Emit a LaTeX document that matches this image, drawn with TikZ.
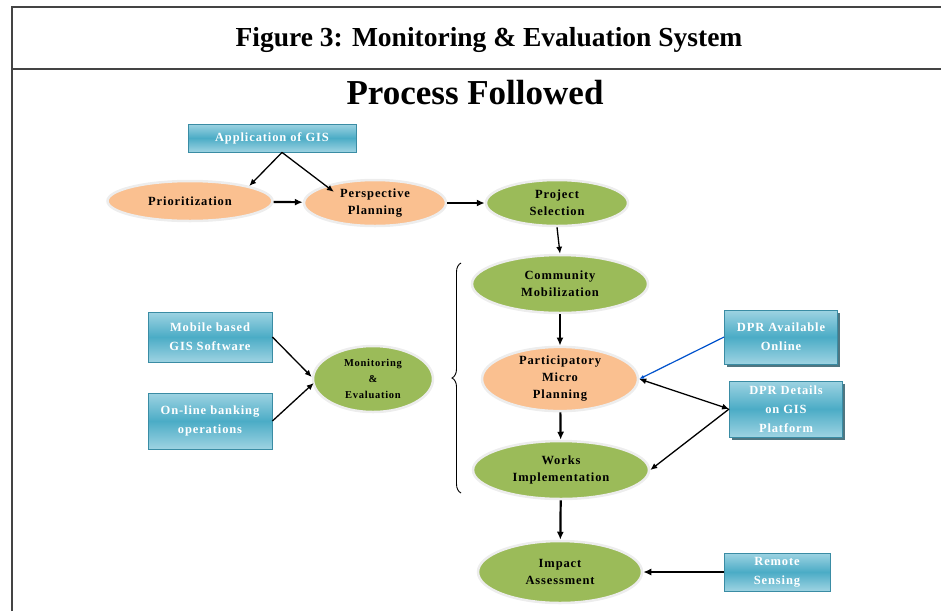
\documentclass[tikz,border=0pt]{standalone}
\usepackage{fontspec}
\setmainfont{Liberation Serif}
\newfontfamily\nodefont[LetterSpace=7]{Liberation Serif}
\usetikzlibrary{positioning,arrows.meta,calc,shapes.geometric,decorations.pathreplacing,shadows}
\definecolor{peach}{HTML}{FAC090}
\definecolor{leaf}{HTML}{9BBB59}
\definecolor{tealtop}{HTML}{9ED3E2}
\definecolor{tealmid}{HTML}{4BACC6}
\definecolor{tealedge}{HTML}{3A8CA4}
\definecolor{rule}{HTML}{444444}

\begin{document}
\begin{tikzpicture}[x=1pt, y=-1pt,
  oval/.style={ellipse, draw=black!7, line width=2.5pt, inner sep=0pt, align=center,
    font=\nodefont\bfseries\fontsize{12.5}{17}\selectfont},
  gisbox/.style={rectangle, draw=tealedge, line width=0.8pt, top color=tealtop, bottom color=tealtop,
    middle color=tealmid, text=white, align=center, inner sep=0pt,
    font=\nodefont\bfseries\fontsize{12.5}{19}\selectfont},
  shade box/.style={drop shadow={fill=tealedge!60!black, opacity=0.8, shadow xshift=2.5pt, shadow yshift=-2.5pt}},
  flow/.style={-{Latex[length=8pt,width=7pt]}, line width=2.2pt},
  link/.style={-{Latex[length=7pt,width=6pt]}, line width=1.3pt}]
  \useasboundingbox (0,0) rectangle (941,611);
  % frame
  \draw[rule, line width=1.4pt] (12,611) -- (12,7) -- (941,7);
  \draw[rule, line width=1.4pt] (12,69) -- (941,69);
  \node (title) at (489,40) {\bfseries\fontsize{27.5}{30}\selectfont Figure 3: Monitoring \& Evaluation System};
  \node (head) at (475,93) {\bfseries\fontsize{35}{38}\selectfont Process Followed};
  % top row
  \node[gisbox, minimum width=168, minimum height=28] (gis) at (272,138) {Application of GIS};
  \node[oval, fill=peach, minimum width=165, minimum height=40] (prio) at (190,201) {Prioritization};
  \node[oval, fill=peach, minimum width=142, minimum height=46] (persp) at (375,203) {Perspective\\Planning};
  \node[oval, fill=leaf, minimum width=142, minimum height=46] (select) at (557,203) {Project\\Selection};
  % main column
  \node[oval, fill=leaf, minimum width=176, minimum height=58] (mobil) at (560,284) {Community\\Mobilization};
  \node[oval, fill=peach, minimum width=156, minimum height=62] (micro) at (560,379) {Participatory\\Micro\\Planning};
  \node[oval, fill=leaf, minimum width=176, minimum height=58] (works) at (561,470) {Works\\Implementation};
  \node[oval, fill=leaf, minimum width=164, minimum height=62] (impact) at (560,572) {Impact\\Assessment};
  % monitoring side
  \node[oval, fill=leaf, minimum width=120, minimum height=66, font=\nodefont\bfseries\fontsize{10.5}{16}\selectfont] (monev) at (373,379) {Monitoring\\\&\\Evaluation};
  \node[gisbox, minimum width=124, minimum height=50] (mobile) at (210,337) {Mobile based\\GIS Software};
  \node[gisbox, minimum width=124, minimum height=56] (bank) at (210,421) {On-line banking\\operations};
  % right side
  \node[gisbox, shade box, minimum width=113, minimum height=54] (online) at (781,337) {DPR Available\\Online};
  \node[gisbox, shade box, minimum width=113, minimum height=56] (details) at (786,409) {DPR Details\\on GIS\\Platform};
  \node[gisbox, minimum width=106, minimum height=38] (remote) at (777,572) {Remote\\Sensing};
  % brace
  \draw[line width=0.9pt, decorate, decoration={brace, amplitude=9pt}] (461,493) -- (461,263);
  % connectors
  \draw[link] ($(gis.south)+(10,0)$) -- (prio.north east);
  \draw[link] ($(gis.south)+(10,0)$) -- ($(persp.north west)+(10,6)$);
  \draw[flow] (prio) -- (persp);
  \draw[flow] (persp) -- (select);
  \draw[link] (select.south) -- (mobil.north);
  \draw[flow] (mobil) -- (micro);
  \draw[flow] (micro) -- (works);
  \draw[flow] (works) -- (impact);
  \draw[link] (mobile.east) -- ($(monev.west)+(0,-2)$);
  \draw[link] (bank.east) -- ($(monev.west)+(2,4)$);
  \draw[-{Latex[length=5pt,width=4pt]}, line width=1.2pt, blue!60!cyan!80!black] (online.west) -- (micro.east);
  \draw[{Latex[length=7pt,width=6pt]}-{Latex[length=7pt,width=6pt]}, line width=1.3pt] (micro.east) -- (details.west);
  \draw[link] (details.west) -- (works.east);
  \draw[flow] (remote) -- (impact);
\end{tikzpicture}
\end{document}
